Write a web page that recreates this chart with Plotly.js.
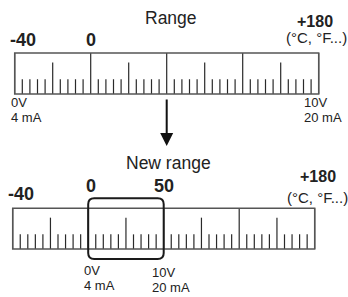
<!DOCTYPE html>
<html><head><meta charset="utf-8">
<script src="https://cdn.plot.ly/plotly-3.0.1.min.js"></script>
<style>html,body{margin:0;padding:0;background:#fff}#chart{width:348px;height:297px}</style>
</head><body><div id="chart"></div>
<script>
const W = 348, H = 297;

// scale structure
const segments = 4;
const tickPattern = ['major','short','short','short','short','medium','short','short','short','short'];
const tickHeight = {major: 1, medium: 0.77, short: 0.36};

// texts
const topTitle = 'Range';
const bottomTitle = 'New range';
const topScaleLabels = ['-40', '0', '+180'];
const topScaleDivs = [0, 10, 40];
const bottomScaleLabels = ['-40', '0', '50', '+180'];
const bottomScaleDivs = [0, 10, 20, 40];
const unitLabel = '(°C, °F...)';
const signalLowLabels = ['0V', '4 mA'];
const signalHighLabels = ['10V', '20 mA'];
const topSignalDivs = [0, 40];
const bottomSignalDivs = [10, 20];
const newRangeDivs = [10, 20];

// geometry (pixels)
const topGeom = {left: 14.7, step: 7.6, top: 53, bottom: 94};
const botGeom = {left: 12.7, step: 7.55, top: 208.3, bottom: 249};

function xRange(g){ return [-g.left/g.step, (W - g.left)/g.step]; }
function yRange(g){ const h = g.bottom - g.top; return [(g.bottom - H)/h, g.bottom/h]; }
function py(px){ return 1 - px/H; }

const n = segments * tickPattern.length;
function tickTrace(xa, ya){
  const xs = [], ys = [];
  for (let d = 0; d <= n; d++){
    const kind = tickPattern[d % tickPattern.length];
    xs.push(d, d, null); ys.push(0, tickHeight[kind], null);
  }
  return {x: xs, y: ys, xaxis: xa, yaxis: ya, mode: 'lines', type: 'scatter',
          line: {color: '#2a2a2a', width: 1.2}, hoverinfo: 'skip', showlegend: false};
}
const traces = [tickTrace('x','y'), tickTrace('x2','y2')];

function roundedRect(x0, x1, y0, y1, rx, ry){
  return `M ${x0+rx},${y0} L ${x1-rx},${y0} Q ${x1},${y0} ${x1},${y0+ry} L ${x1},${y1-ry} Q ${x1},${y1} ${x1-rx},${y1} L ${x0+rx},${y1} Q ${x0},${y1} ${x0},${y1-ry} L ${x0},${y0+ry} Q ${x0},${y0} ${x0+rx},${y0} Z`;
}
const bh = botGeom.bottom - botGeom.top;
const shapes = [
  {type: 'rect', xref: 'x', yref: 'y', x0: 0, x1: n, y0: 0, y1: 1, line: {color: '#555', width: 1.5}},
  {type: 'rect', xref: 'x2', yref: 'y2', x0: 0, x1: n, y0: 0, y1: 1, line: {color: '#555', width: 1.5}},
  {type: 'path', xref: 'x2', yref: 'y2',
   path: roundedRect(newRangeDivs[0], newRangeDivs[1], -10/bh, 1 + 10/bh, 6/botGeom.step, 6/bh),
   line: {color: '#1a1a1a', width: 2}}
];

const txt = '#222';
const fam = 'Liberation Sans, Arial, sans-serif';
const ann = [];
function A(o){ ann.push(Object.assign({showarrow: false, xanchor: 'center', yanchor: 'middle',
  font: {family: fam, size: 15, color: txt}}, o)); }
const small = {family: fam, size: 13, color: txt};
const lineGap = 14.5;

// top scale
A({text: topTitle, xref: 'paper', yref: 'paper', x: 171/W, y: py(18), font: {family: fam, size: 17.5, color: txt}});
const topShift = [8.3, 0, -3.5];
const topY = [40, 40, 21.5];
const topSize = [18, 18, 16];
topScaleLabels.forEach((t, i) => A({text: '<b>' + t + '</b>', xref: 'x', yref: 'paper', x: topScaleDivs[i], xshift: topShift[i],
  y: py(topY[i]), font: {family: fam, size: topSize[i], color: txt}}));
A({text: unitLabel, xref: 'x', yref: 'paper', x: n, xshift: -2.5, y: py(37.5)});
signalLowLabels.forEach((t, i) => A({text: t, xref: 'x', yref: 'paper', x: topSignalDivs[0], xshift: -6,
  y: py(102.5 + lineGap*i), xanchor: 'left', font: small}));
signalHighLabels.forEach((t, i) => A({text: t, xref: 'x', yref: 'paper', x: topSignalDivs[1], xshift: -17,
  y: py(102.5 + lineGap*i), xanchor: 'left', font: small}));

// arrow
ann.push({text: '', xref: 'x', yref: 'paper', x: 20, y: py(146), ax: 0, ay: -48, showarrow: true,
  arrowhead: 2, arrowsize: 1.3, arrowwidth: 2, arrowcolor: '#111'});

// bottom scale
A({text: bottomTitle, xref: 'paper', yref: 'paper', x: 168/W, y: py(163), font: {family: fam, size: 17.5, color: txt}});
const botShift = [8, 3, 0, 3.5];
const botY = [193.5, 186, 186, 176];
const botSize = [18, 18, 18, 16];
bottomScaleLabels.forEach((t, i) => A({text: '<b>' + t + '</b>', xref: 'x2', yref: 'paper', x: bottomScaleDivs[i], xshift: botShift[i],
  y: py(botY[i]), font: {family: fam, size: botSize[i], color: txt}}));
A({text: unitLabel, xref: 'x2', yref: 'paper', x: n, xshift: 2.5, y: py(197)});
signalLowLabels.forEach((t, i) => A({text: t, xref: 'x2', yref: 'paper', x: bottomSignalDivs[0], xshift: -6,
  y: py(270.5 + lineGap*i), xanchor: 'left', font: small}));
signalHighLabels.forEach((t, i) => A({text: t, xref: 'x2', yref: 'paper', x: bottomSignalDivs[1], xshift: -14,
  y: py(272.5 + lineGap*i), xanchor: 'left', font: small}));

const ax = {visible: false, fixedrange: true, showgrid: false, zeroline: false};
const layout = {
  width: W, height: H, margin: {l: 0, r: 0, t: 0, b: 0},
  paper_bgcolor: '#fff', plot_bgcolor: '#fff', showlegend: false,
  xaxis: Object.assign({range: xRange(topGeom), domain: [0, 1]}, ax),
  yaxis: Object.assign({range: yRange(topGeom), domain: [0, 1]}, ax),
  xaxis2: Object.assign({range: xRange(botGeom), overlaying: 'x'}, ax),
  yaxis2: Object.assign({range: yRange(botGeom), overlaying: 'y'}, ax),
  shapes: shapes, annotations: ann
};
Plotly.newPlot('chart', traces, layout, {staticPlot: true, displayModeBar: false});
</script></body></html>
